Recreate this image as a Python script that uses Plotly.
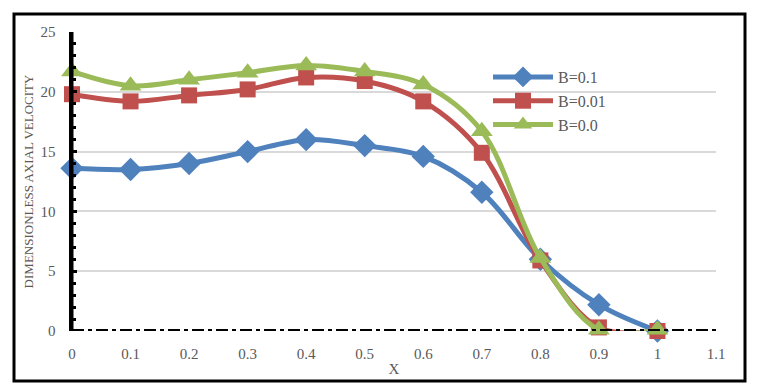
import plotly.graph_objects as go

x_vals = [0, 0.1, 0.2, 0.3, 0.4, 0.5, 0.6, 0.7, 0.8, 0.9, 1.0]
b_01 = [13.6, 13.5, 14.0, 15.0, 16.0, 15.5, 14.6, 11.6, 6.0, 2.2, 0.0]
b_001 = [19.8, 19.2, 19.7, 20.2, 21.2, 20.9, 19.2, 14.9, 5.9, 0.3, 0.0]
b_00 = [21.7, 20.5, 21.0, 21.6, 22.2, 21.7, 20.6, 16.7, 6.1, 0.1, 0.1]

series = [
    ("B=0.1", b_01, "#4F81BD", "diamond", 18),
    ("B=0.01", b_001, "#C0504D", "square", 16),
    ("B=0.0", b_00, "#9BBB59", "triangle-up", 19),
]

fig = go.Figure()
for name, ys, col, sym, sz in series:
    fig.add_trace(go.Scatter(
        x=x_vals, y=ys, name=name, mode="lines+markers",
        line=dict(color=col, width=5, shape="spline", smoothing=1),
        marker=dict(symbol=sym, size=sz, color=col),
        cliponaxis=False,
    ))

font_fam = "Liberation Serif, DejaVu Serif, serif"
L, R, T, B = 72, 42, 32, 53
W, H = 758, 384
pw, ph = W - L - R, H - T - B

fig.update_layout(
    width=W, height=H,
    margin=dict(l=L, r=R, t=T, b=B, autoexpand=False),
    paper_bgcolor="white", plot_bgcolor="white",
    font=dict(family=font_fam, size=15, color="#595959"),
    legend=dict(x=(488 - L) / pw, y=(H - B - 60) / ph, xanchor="left", yanchor="top",
                bgcolor="rgba(0,0,0,0)", font=dict(size=16, color="#595959"),
                itemwidth=60, tracegroupgap=0),
    showlegend=True,
    modebar=dict(bgcolor="rgba(0,0,0,0)", color="rgba(0,0,0,0)", activecolor="rgba(0,0,0,0)"),
)
fig.update_xaxes(
    range=[0, 1.1], tickvals=[0, 0.1, 0.2, 0.3, 0.4, 0.5, 0.6, 0.7, 0.8, 0.9, 1.0, 1.1],
    ticktext=["0", "0.1", "0.2", "0.3", "0.4", "0.5", "0.6", "0.7", "0.8", "0.9", "1", "1.1"],
    showgrid=False, zeroline=False, showline=False,
    ticks="outside", ticklen=9, tickcolor="rgba(0,0,0,0)",
    title=dict(text="X", font=dict(size=15, color="#595959"), standoff=2),
    tickfont=dict(size=15, color="#595959"),
)
fig.update_yaxes(
    range=[0, 25], dtick=5, showgrid=True, gridcolor="#D9D9D9", gridwidth=2,
    zeroline=False, showline=True, linecolor="black", linewidth=3,
    ticks="inside", ticklen=5, tickwidth=3, tickcolor="black",
    minor=dict(dtick=1, ticks="inside", ticklen=4, tickwidth=3, tickcolor="black", showgrid=False),
    ticksuffix="\u2002\u2009",
    title=dict(text="DIMENSIONLESS AXIAL VELOCITY", font=dict(size=13, color="#595959"), standoff=4),
    tickfont=dict(size=15, color="#595959"),
)
# y-axis line (drawn as a shape too, to be safe)
fig.add_shape(type="line", xref="x", yref="y", x0=0, x1=0, y0=0, y1=25,
              line=dict(color="black", width=3), layer="above")
# dashed x-axis line
fig.add_shape(type="line", xref="x", yref="y", x0=0, x1=1.1, y0=0, y1=0,
              line=dict(color="black", width=4, dash="dashdot"), layer="above")
# outer border
fig.add_shape(type="rect", xref="paper", yref="paper",
              x0=(14 - L) / pw, x1=(745 - L) / pw,
              y0=(H - B - 381) / ph, y1=(H - B - 14) / ph,
              line=dict(color="black", width=3), fillcolor="rgba(0,0,0,0)", layer="above")

fig.write_html("out.html",
               post_script=("document.body.style.margin='0';document.body.style.overflow='hidden';"
                            "var s=document.createElement('style');"
                            "s.innerHTML='.modebar-container{display:none !important}';"
                            "document.head.appendChild(s);"))
